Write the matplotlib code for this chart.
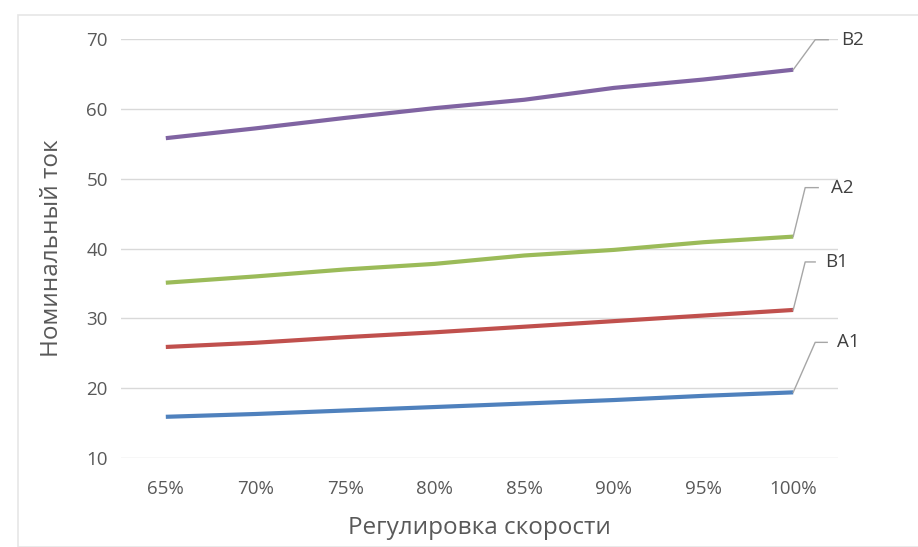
import numpy as np
import matplotlib.pyplot as plt
from matplotlib.patches import Rectangle
from matplotlib.lines import Line2D

# данные
categories = ['65%', '70%', '75%', '80%', '85%', '90%', '95%', '100%']
A1 = [15.9, 16.3, 16.8, 17.3, 17.8, 18.3, 18.9, 19.4]
B1 = [25.9, 26.5, 27.3, 28.0, 28.8, 29.6, 30.4, 31.2]
A2 = [35.1, 36.0, 37.0, 37.8, 39.0, 39.8, 40.9, 41.7]
B2 = [55.8, 57.2, 58.7, 60.1, 61.3, 63.0, 64.2, 65.6]

series = [('A1', A1, '#4F81BD'), ('B1', B1, '#C0504D'),
          ('A2', A2, '#9BBB59'), ('B2', B2, '#8064A2')]

# выноски подписей в пикселях: (dx излома, dy, конец горизонтали, центр текста)
leaders = {'B2': (22, 30, 35, 59), 'A2': (12, 49, 25, 49),
           'B1': (12, 48, 22, 43), 'A1': (22, 50, 34, 55)}

plt.rcParams['font.family'] = ['Open Sans', 'DejaVu Sans']
txt = '#595959'

fig = plt.figure(figsize=(9.18, 5.47), dpi=100)
ax = fig.add_axes([121/918, 89/547, (838-121)/918, (458-39)/547])

# рамка области диаграммы
fig.patches.append(Rectangle((18/918, 0), 1.0, (547-15)/547, transform=fig.transFigure,
                             fill=False, edgecolor='#e6e6e6', linewidth=1.2))

x = np.arange(len(categories))
ax.set_xlim(-0.5, len(categories) - 0.5)
ax.set_ylim(10, 70)

for name, vals, col in series:
    ax.plot(x, vals, color=col, linewidth=3, solid_capstyle='butt', zorder=3)
    # выноска от последней точки
    px, py = ax.transData.transform((x[-1], vals[-1]))
    cx, cy, hx, tx = leaders[name]
    fig.lines.append(Line2D([px, px + cx, px + hx], [py, py + cy, py + cy],
                            color='#a6a6a6', linewidth=1, transform=None))
    fig.text((px + tx) / 918, (py + cy) / 547, name, ha='center', va='center',
             fontsize=13.5, color='#404040')

ax.set_yticks(range(10, 71, 10))
ax.set_xticks(x)
ax.set_xticklabels(categories)
ax.grid(axis='y', color='#d9d9d9', linewidth=1)
ax.set_axisbelow(True)
for s in ax.spines.values():
    s.set_visible(False)
ax.tick_params(length=0, labelsize=13.5, labelcolor=txt)
ax.tick_params(axis='x', pad=16)
ax.tick_params(axis='y', pad=9.5)

ax.set_xlabel('Регулировка скорости', fontsize=17.5, color=txt, labelpad=13)
ax.set_ylabel('Номинальный ток', fontsize=17.5, color=txt, labelpad=16)

fig.savefig('out.png', dpi=100)
